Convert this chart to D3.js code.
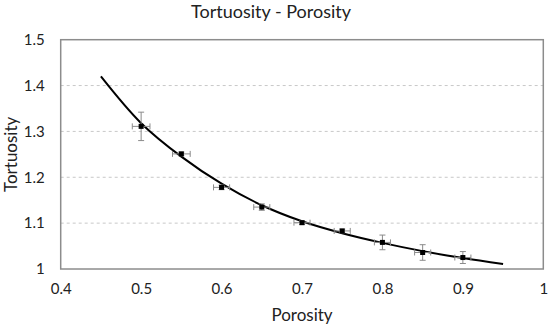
<!DOCTYPE html>
<html><head><meta charset="utf-8">
<script src="https://cdn.jsdelivr.net/npm/d3@7"></script>
<style>body{margin:0;background:#fff}svg{display:block}text{font-family:Lato,"Open Sans",sans-serif;fill:#222}</style>
</head><body>
<script>
const porosity   = [0.5, 0.55, 0.6, 0.65, 0.7, 0.75, 0.8, 0.85, 0.9];
const tortuosity = [1.311, 1.251, 1.178, 1.135, 1.101, 1.083, 1.058, 1.036, 1.025];
const yErr       = [0.031, 0.004, 0.005, 0.007, 0.004, 0.004, 0.016, 0.017, 0.013];
const xErr       = [0.011, 0.011, 0.01, 0.01, 0.01, 0.01, 0.01, 0.01, 0.01];
const fitX = [0.45, 0.5, 0.55, 0.6, 0.65, 0.7, 0.75, 0.8, 0.85, 0.9, 0.95];
const fitY = [1.42, 1.318, 1.245, 1.186, 1.139, 1.104, 1.078, 1.057, 1.039, 1.024, 1.011];
const xTicks = [0.4, 0.5, 0.6, 0.7, 0.8, 0.9, 1];
const yTicks = [1, 1.1, 1.2, 1.3, 1.4, 1.5];

const W = 550, H = 328;
const m = {l: 60.7, r: 6.7, t: 39.7, b: 59};
const svg = d3.select("body").append("svg").attr("width", W).attr("height", H);
const x = d3.scaleLinear().domain([0.4, 1]).range([m.l, W - m.r]);
const y = d3.scaleLinear().domain([1, 1.5]).range([H - m.b, m.t]);

// gridlines
svg.append("g").selectAll("line").data(yTicks.filter(d => d > 1 && d < 1.5)).join("line")
  .attr("x1", x(0.4)).attr("x2", x(1)).attr("y1", d => y(d)).attr("y2", d => y(d))
  .attr("stroke", "#c8c8c8").attr("stroke-width", 1).attr("stroke-dasharray", "3,3");

// axes (labels only)
const xa = svg.append("g").attr("transform", `translate(0,${H - m.b})`)
  .call(d3.axisBottom(x).tickValues(xTicks).tickSize(0).tickPadding(14).tickFormat(d => d3.format("")(d)));
const ya = svg.append("g").attr("transform", `translate(${m.l},0)`)
  .call(d3.axisLeft(y).tickValues(yTicks).tickSize(0).tickPadding(16).tickFormat(d => d3.format("")(d)));
[xa, ya].forEach(a => { a.select(".domain").remove(); a.selectAll("text").attr("font-size", 15).style("fill", "#222"); });

// border
svg.append("rect").attr("x", x(0.4)).attr("y", y(1.5)).attr("width", x(1) - x(0.4)).attr("height", y(1) - y(1.5))
  .attr("fill", "none").attr("stroke", "#8c8c8c").attr("stroke-width", 1.5);

// fit curve
svg.append("path").datum(fitX.map((d, i) => [d, fitY[i]]))
  .attr("d", d3.line().x(d => x(d[0])).y(d => y(d[1])).curve(d3.curveCatmullRom))
  .attr("fill", "none").attr("stroke", "#000").attr("stroke-width", 2);

// error bars
const eb = svg.append("g").attr("stroke", "#8a8a8a").attr("stroke-width", 1);
porosity.forEach((p, i) => {
  const cx = x(p), cy = y(tortuosity[i]);
  const y0 = y(tortuosity[i] - yErr[i]), y1 = y(tortuosity[i] + yErr[i]);
  const x0 = x(p - xErr[i]), x1 = x(p + xErr[i]);
  eb.append("line").attr("x1", cx).attr("x2", cx).attr("y1", y0).attr("y2", y1);
  eb.append("line").attr("x1", cx - 3).attr("x2", cx + 3).attr("y1", y0).attr("y2", y0);
  eb.append("line").attr("x1", cx - 3).attr("x2", cx + 3).attr("y1", y1).attr("y2", y1);
  eb.append("line").attr("x1", x0).attr("x2", x1).attr("y1", cy).attr("y2", cy);
  eb.append("line").attr("x1", x0).attr("x2", x0).attr("y1", cy - 3).attr("y2", cy + 3);
  eb.append("line").attr("x1", x1).attr("x2", x1).attr("y1", cy - 3).attr("y2", cy + 3);
});

// markers
svg.append("g").selectAll("rect").data(porosity).join("rect")
  .attr("x", (d) => x(d) - 2.5).attr("y", (d, i) => y(tortuosity[i]) - 2.5)
  .attr("width", 5).attr("height", 5).attr("fill", "#000");

// titles
svg.append("text").attr("x", 271).attr("y", 18).attr("text-anchor", "middle").attr("font-size", 18).text("Tortuosity - Porosity");
svg.append("text").attr("x", x(0.7)).attr("y", 321).attr("text-anchor", "middle").attr("font-size", 17).text("Porosity");
svg.append("text").attr("transform", `translate(17,${y(1.25)}) rotate(-90)`).attr("text-anchor", "middle").attr("font-size", 17).text("Tortuosity");
</script>
</body></html>
